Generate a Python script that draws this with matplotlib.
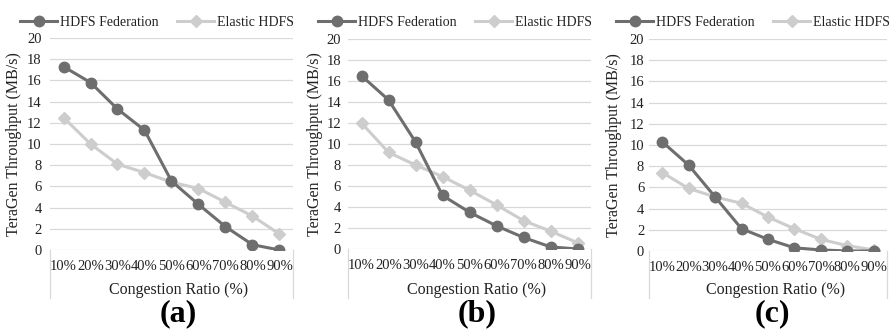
import numpy as np
import matplotlib
matplotlib.use("Agg")
import matplotlib.pyplot as plt
from matplotlib.lines import Line2D

plt.rcParams['font.family'] = ['Liberation Serif', 'DejaVu Serif']

categories = ['10%', '20%', '30%', '40%', '50%', '60%', '70%', '80%', '90%']
series_names = ['HDFS Federation', 'Elastic HDFS']

fed_a = [17.3, 15.8, 13.3, 11.3, 6.5, 4.3, 2.2, 0.5, 0.0]
ela_a = [12.5, 10.0, 8.1, 7.3, 6.4, 5.8, 4.5, 3.2, 1.5]
fed_b = [16.5, 14.2, 10.2, 5.1, 3.5, 2.2, 1.1, 0.2, 0.0]
ela_b = [12.0, 9.2, 8.0, 6.9, 5.6, 4.2, 2.7, 1.7, 0.6]
fed_c = [10.3, 8.1, 5.1, 2.1, 1.1, 0.3, 0.1, 0.0, 0.0]
ela_c = [7.4, 5.9, 5.1, 4.5, 3.2, 2.1, 1.1, 0.5, 0.1]
panel_labels = ['(a)', '(b)', '(c)']

W, H = 893, 332
fig = plt.figure(figsize=(W / 100, H / 100), dpi=100)

# pixel boxes: left, right, top(20), bottom(0)
boxes = [(50, 293, 38, 250), (348, 591, 39, 249), (649, 887, 39, 251)]
ylab_x = [22, 323, 622]   # right edge of the rotated y label
ytick_pad = [6, 5, 3.5]
legend_cx = [157, 455, 753]
panel_cx = [178, 477, 772]

C_FED = '#6e6e6e'
C_ELA = '#cdcdcd'
GRID = '#d9d9d9'

data = [(fed_a, ela_a), (fed_b, ela_b), (fed_c, ela_c)]
x = np.arange(len(categories))

for i, ((fed, ela), (l, r, t, b)) in enumerate(zip(data, boxes)):
    ax = fig.add_axes([l / W, 1 - b / H, (r - l) / W, (b - t) / H])
    ax.plot(x, fed, color=C_FED, lw=2.2, marker='o', ms=7.5, label=series_names[0], zorder=3)
    ax.plot(x, ela, color=C_ELA, lw=2.2, marker='D', ms=6.5, label=series_names[1], zorder=2)
    ax.set_xlim(-0.5, len(categories) - 0.5)
    ax.set_ylim(0, 20)
    ax.set_yticks(np.arange(0, 21, 2))
    ax.set_xticks(x)
    ax.set_xticklabels(categories)
    ax.yaxis.grid(True, color=GRID, lw=0.9)
    ax.set_axisbelow(True)
    for s in ax.spines.values():
        s.set_visible(False)
    ax.tick_params(axis='both', length=0, labelsize=10.5, colors='#222222')
    ax.tick_params(axis='x', pad=7)
    ax.tick_params(axis='y', pad=ytick_pad[i])
    ax.set_ylabel('TeraGen Throughput (MB/s)', fontsize=11.5, color='#222222')
    ax.yaxis.set_label_coords((ylab_x[i] - l) / (r - l), 0.5)
    ax.set_xlabel('Congestion Ratio (%)', fontsize=11.5, color='#222222')
    ax.xaxis.set_label_coords(0.53, -(282 - b) / (b - t))
    # light boundary lines below the category axis
    for xx in (0, 1):
        ax.add_line(Line2D([xx, xx], [0, -(298 - b) / (b - t)], transform=ax.transAxes,
                           color=GRID, lw=0.9, clip_on=False))
    leg = ax.legend(loc='center', bbox_to_anchor=(legend_cx[i] / W, 1 - 22 / H),
                    bbox_transform=fig.transFigure, ncol=2, frameon=False,
                    fontsize=10, handlelength=2.7, handletextpad=0.2,
                    columnspacing=1.3, borderpad=0)
    for txt in leg.get_texts():
        txt.set_color('#222222')
    fig.text(panel_cx[i] / W, 1 - 314 / H, panel_labels[i], ha='center', va='center',
             fontsize=23, fontweight='bold')

fig.savefig('out.png', dpi=100)
